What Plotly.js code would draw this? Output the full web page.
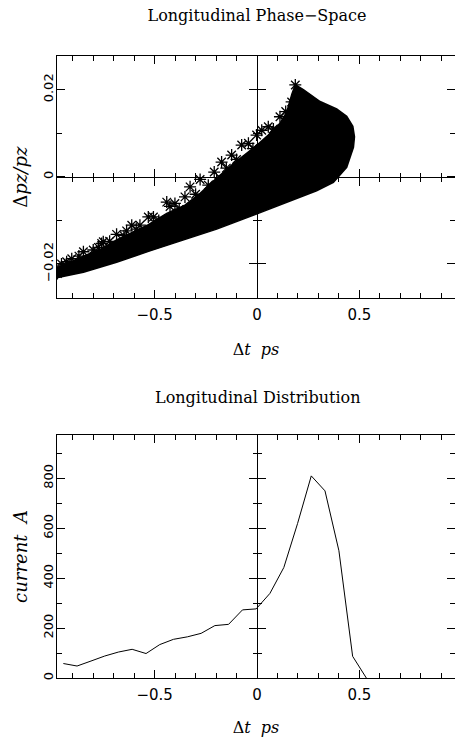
<!DOCTYPE html>
<html>
<head>
<meta charset="utf-8">
<script src="https://cdn.plot.ly/plotly-3.0.1.min.js"></script>
<style>html,body{margin:0;padding:0;background:#fff;overflow:hidden}</style>
</head>
<body>
<div id="chart" style="width:455px;height:738px"></div>
<script>
// ---- Longitudinal phase-space: outline of the dense particle cloud (Δt [ps], Δpz/pz)
const cloudT = [-0.995, -0.979, -0.848, -0.686, -0.523, -0.360, -0.197, 0.000, 0.129, 0.291, 0.373, 0.438, 0.471, 0.476, 0.468, 0.438, 0.389, 0.308, 0.228, 0.187,
                0.170, 0.146, 0.112, 0.055, 0.000, -0.042, -0.124, -0.209, -0.278, -0.352, -0.441, -0.531, -0.612, -0.686, -0.759, -0.848, -0.905, -0.995];
const cloudD = [-0.0233, -0.0232, -0.0219, -0.0196, -0.0170, -0.0145, -0.0120, -0.0085, -0.0062, -0.0032, -0.0013, 0.0022, 0.0068, 0.0092, 0.0116, 0.0139, 0.0156, 0.0173, 0.0200, 0.0212,
                0.0190, 0.0150, 0.0123, 0.0096, 0.0073, 0.0057, 0.0027, -0.0008, -0.0038, -0.0065, -0.0084, -0.0110, -0.0128, -0.0145, -0.0165, -0.0182, -0.0195, -0.0212];
// ---- individual particles visible on the ragged upper edge
const starT = [-0.985, -0.975, -0.955, -0.930, -0.905, -0.870, -0.848, -0.800, -0.775, -0.759, -0.751, -0.720, -0.686, -0.650, -0.637, -0.612, -0.590, -0.572, -0.531, -0.506, -0.480,
               -0.441, -0.425, -0.401, -0.380, -0.352, -0.327, -0.300, -0.278, -0.238, -0.209, -0.190, -0.173, -0.150, -0.124, -0.100, -0.075, -0.042, -0.020, -0.002, 0.023,
               0.055, 0.080, 0.112, 0.140, 0.169, 0.187];
const starD = [-0.0210, -0.0222, -0.0200, -0.0195, -0.0188, -0.0182, -0.0172, -0.0168, -0.0162, -0.0153, -0.0149, -0.0148, -0.0132, -0.0135, -0.0124, -0.0111, -0.0120, -0.0111, -0.0092, -0.0092, -0.0100,
               -0.0058, -0.0068, -0.0061, -0.0075, -0.0046, -0.0023, -0.0040, -0.0006, -0.0019, 0.0011, -0.0010, 0.0034, 0.0020, 0.0050, 0.0040, 0.0073, 0.0077, 0.0065, 0.0096, 0.0107,
               0.0115, 0.0110, 0.0138, 0.0150, 0.0172, 0.0211];
// ---- Longitudinal distribution (Δt [ps], current [A])
const currentT = [-0.946, -0.879, -0.811, -0.744, -0.677, -0.610, -0.542, -0.475, -0.408, -0.340, -0.273, -0.206, -0.139, -0.071, -0.004, 0.063, 0.131, 0.198, 0.265, 0.332, 0.400, 0.467, 0.534];
const currentA = [58, 48, 68, 88, 104, 115, 98, 134, 155, 165, 179, 210, 215, 273, 277, 339, 443, 619, 810, 750, 510, 87, 0];
// ---- axis settings
const xRange = [-0.977, 0.967];
const yRangeTop = [-0.02788, 0.02775];
const yRangeBot = [0, 974];
const xTickVals = [-0.5, 0, 0.5];
const xTickText = ['\u22120.5', '0', '0.5'];
const yTopTickVals = [-0.02, 0, 0.02];
const yTopTickText = ['\u22120.02', '0', '0.02'];
const yBotTickVals = [0, 200, 400, 600, 800];
const yBotTickText = ['0', '200', '400', '600', '800'];

const domTop = [0.6105, 1];
const domBot = [0, 0.3907];
const posX0 = (0 - xRange[0]) / (xRange[1] - xRange[0]);
const posY0Top = domTop[0] + (0 - yRangeTop[0]) / (yRangeTop[1] - yRangeTop[0]) * (domTop[1] - domTop[0]);

const BLACK = '#000';
const tickFontX = {family: 'DejaVu Sans', size: 15, color: BLACK};
const tickFontY = {family: 'DejaVu Sans', size: 13, color: BLACK};
const titleFont = {family: 'DejaVu Serif', size: 16, color: BLACK};
const yTitleFont = {family: 'DejaVu Serif', size: 18, color: BLACK};

function frame(extra, minorDtick) {
  return Object.assign({
    showline: true, linecolor: BLACK, linewidth: 1, mirror: 'ticks',
    ticks: 'inside', ticklen: 8, tickwidth: 1, tickcolor: BLACK,
    showgrid: false, zeroline: false, fixedrange: true,
    minor: {ticks: 'inside', ticklen: 5, tickwidth: 1, tickcolor: BLACK, dtick: minorDtick, showgrid: false}
  }, extra);
}
function cross(extra, side, minorDtick) {
  return Object.assign({
    anchor: 'free', showline: true, linecolor: BLACK, linewidth: 1,
    ticks: side, ticklen: 8, tickwidth: 1, tickcolor: BLACK,
    showticklabels: false, showgrid: false, zeroline: false, fixedrange: true,
    minor: {ticks: side, ticklen: 4, tickwidth: 1, tickcolor: BLACK, dtick: minorDtick, showgrid: false}
  }, extra);
}

const traces = [
  {type: 'scatter', mode: 'lines', x: cloudT, y: cloudD, fill: 'toself', fillcolor: BLACK,
   line: {color: BLACK, width: 1.5}, xaxis: 'x', yaxis: 'y', hoverinfo: 'skip'},
  {type: 'scatter', mode: 'markers', x: starT, y: starD, xaxis: 'x', yaxis: 'y',
   marker: {symbol: 'asterisk-open', size: 10, color: BLACK, line: {color: BLACK, width: 1.3}}, hoverinfo: 'skip'},
  {type: 'scatter', mode: 'lines', x: currentT, y: currentA, xaxis: 'x2', yaxis: 'y2',
   line: {color: BLACK, width: 1}, hoverinfo: 'skip'},
  // carriers for the crossing axes
  {type: 'scatter', x: [], y: [], xaxis: 'x3', yaxis: 'y', hoverinfo: 'skip'},
  {type: 'scatter', x: [], y: [], xaxis: 'x4', yaxis: 'y', hoverinfo: 'skip'},
  {type: 'scatter', x: [], y: [], xaxis: 'x', yaxis: 'y3', hoverinfo: 'skip'},
  {type: 'scatter', x: [], y: [], xaxis: 'x', yaxis: 'y4', hoverinfo: 'skip'},
  {type: 'scatter', x: [], y: [], xaxis: 'x2', yaxis: 'y5', hoverinfo: 'skip'},
  {type: 'scatter', x: [], y: [], xaxis: 'x2', yaxis: 'y6', hoverinfo: 'skip'}
];

const layout = {
  width: 455, height: 738,
  margin: {l: 57, r: 0, t: 56, b: 60, pad: 0},
  paper_bgcolor: '#fff', plot_bgcolor: '#fff',
  showlegend: false,
  title: {text: 'Longitudinal Phase\u2212Space', font: titleFont, xref: 'paper', x: posX0, xanchor: 'center',
          yref: 'container', y: 1 - 15 / 738, yanchor: 'middle'},
  xaxis: frame({domain: [0, 1], anchor: 'y', range: xRange, tickvals: xTickVals, ticktext: xTickText,
                tickfont: tickFontX, ticklabelstandoff: 3,
                title: {text: '\u0394<i>t  ps</i>', font: titleFont, standoff: 20}}, 0.1),
  yaxis: frame({domain: domTop, anchor: 'x', range: yRangeTop, tickvals: yTopTickVals, ticktext: yTopTickText,
                tickfont: tickFontY, tickangle: -90, ticklabelstandoff: -2,
                title: {text: '\u0394<i>pz/pz</i>', font: yTitleFont, standoff: 8}}, 0.01),
  xaxis2: frame({domain: [0, 1], anchor: 'y2', range: xRange, tickvals: xTickVals, ticktext: xTickText,
                 tickfont: tickFontX, ticklabelstandoff: 3,
                 title: {text: '\u0394<i>t  ps</i>', font: titleFont, standoff: 18}}, 0.1),
  yaxis2: frame({domain: domBot, anchor: 'x2', range: yRangeBot, tickvals: yBotTickVals, ticktext: yBotTickText,
                 tickfont: tickFontY, tickangle: -90, ticklabelstandoff: -2,
                 title: {text: '<i>current  A</i>', font: yTitleFont, standoff: 8}}, 100),
  xaxis3: cross({overlaying: 'x', position: posY0Top, range: xRange, tickvals: xTickVals}, 'outside', 0.1),
  xaxis4: cross({overlaying: 'x', position: posY0Top, range: xRange, tickvals: xTickVals}, 'inside', 0.1),
  yaxis3: cross({overlaying: 'y', position: posX0, range: yRangeTop, tickvals: yTopTickVals}, 'outside', 0.01),
  yaxis4: cross({overlaying: 'y', position: posX0, range: yRangeTop, tickvals: yTopTickVals}, 'inside', 0.01),
  yaxis5: cross({overlaying: 'y2', position: posX0, range: yRangeBot, tickvals: yBotTickVals}, 'outside', 100),
  yaxis6: cross({overlaying: 'y2', position: posX0, range: yRangeBot, tickvals: yBotTickVals}, 'inside', 100),
  annotations: [
    {text: 'Longitudinal Distribution', font: titleFont, showarrow: false,
     xref: 'x2', x: 0, xanchor: 'center', yref: 'paper', y: (678 - 397) / 622, yanchor: 'middle'}
  ]
};

Plotly.newPlot('chart', traces, layout, {staticPlot: true, displayModeBar: false});
</script>
</body>
</html>
